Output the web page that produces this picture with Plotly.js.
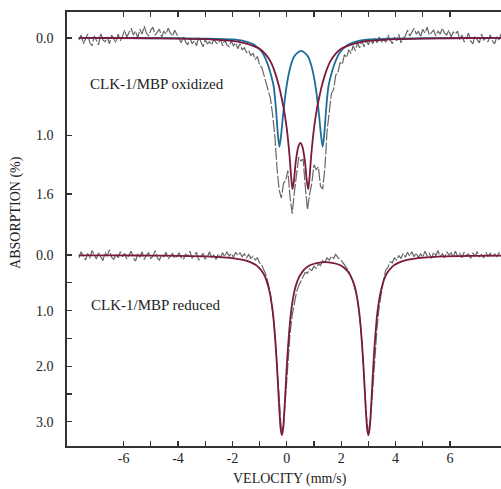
<!DOCTYPE html>
<html>
<head>
<meta charset="utf-8">
<script src="https://cdn.plot.ly/plotly-3.0.1.min.js"></script>
<style>html,body{margin:0;padding:0;background:#fff;}#chart{width:501px;height:489px;}
#fontprime{position:absolute;left:0;top:0;font-family:'Liberation Serif';font-size:14px;color:#ffffff;z-index:-1;}</style>
</head>
<body>
<div id="fontprime">ABSORPTION VELOCITY CLK-1/MBP oxidized reduced 0123456789.-()%</div>
<div id="chart"></div>
<script>
// Velocity channels (mm/s), shared by both spectra
const VELOCITY = [-7.64,-7.56,-7.48,-7.40,-7.32,-7.24,-7.16,-7.08,-7.00,-6.92,-6.84,-6.76,-6.68,-6.60,-6.52,-6.44,-6.36,-6.28,-6.20,-6.12,-6.04,-5.96,-5.88,-5.80,-5.72,-5.64,-5.56,-5.48,-5.40,-5.32,-5.24,-5.16,-5.08,-5.00,-4.92,-4.84,-4.76,-4.68,-4.60,-4.52,-4.44,-4.36,-4.28,-4.20,-4.12,-4.04,-3.96,-3.88,-3.80,-3.72,-3.64,-3.56,-3.48,-3.40,-3.32,-3.24,-3.16,-3.08,-3.00,-2.92,-2.84,-2.76,-2.68,-2.60,-2.52,-2.44,-2.36,-2.28,-2.20,-2.12,-2.04,-1.96,-1.88,-1.80,-1.72,-1.64,-1.56,-1.48,-1.40,-1.32,-1.24,-1.16,-1.08,-1.00,-0.92,-0.84,-0.76,-0.68,-0.60,-0.52,-0.44,-0.36,-0.28,-0.20,-0.12,-0.04,0.04,0.12,0.20,0.28,0.36,0.44,0.52,0.60,0.68,0.76,0.84,0.92,1.00,1.08,1.16,1.24,1.32,1.40,1.48,1.56,1.64,1.72,1.80,1.88,1.96,2.04,2.12,2.20,2.28,2.36,2.44,2.52,2.60,2.68,2.76,2.84,2.92,3.00,3.08,3.16,3.24,3.32,3.40,3.48,3.56,3.64,3.72,3.80,3.88,3.96,4.04,4.12,4.20,4.28,4.36,4.44,4.52,4.60,4.68,4.76,4.84,4.92,5.00,5.08,5.16,5.24,5.32,5.40,5.48,5.56,5.64,5.72,5.80,5.88,5.96,6.04,6.12,6.20,6.28,6.36,6.44,6.52,6.60,6.68,6.76,6.84,6.92,7.00,7.08,7.16,7.24,7.32,7.40,7.48,7.56,7.64,7.72,7.80,7.88,7.96];

// Measured absorption (%) – oxidized sample
const OXIDIZED_DATA = [0.02,-0.03,0.06,0.01,-0.04,0.05,0.08,-0.02,0.03,0.07,-0.05,0.02,0.04,-0.01,0.06,-0.03,0.01,0.05,-0.04,0.03,-0.02,
-0.08,-0.01,-0.06,-0.10,-0.03,-0.07,0.00,-0.09,-0.04,-0.12,-0.05,-0.02,-0.08,-0.11,-0.03,-0.06,-0.09,-0.01,-0.07,-0.04,-0.10,-0.05,-0.02,-0.08,-0.03,
0.01,0.05,-0.02,0.04,0.07,0.00,0.06,0.03,0.08,-0.01,0.05,0.09,0.02,0.06,0.04,0.07,0.01,0.05,
0.06,0.01,0.08,0.02,0.07,0.09,0.03,0.08,0.05,0.11,
0.06,0.12,0.10,0.15,0.13,0.18,0.16,0.22,0.19,0.28,
0.30,0.38,0.44,0.53,0.62,0.79,1.00,1.33,1.56,1.64,
1.49,1.46,1.36,1.63,1.80,1.58,1.41,1.22,1.26,1.24,
1.52,1.76,1.60,1.49,1.30,1.35,1.32,1.52,1.55,1.34,
0.96,0.79,0.57,0.53,0.38,0.36,0.25,0.27,0.17,0.20,
0.12,0.16,0.08,0.13,0.05,0.10,0.03,0.09,0.02,0.07,
0.01,0.06,0.00,0.05,-0.01,0.04,0.02,
0.04,-0.03,0.02,0.06,-0.01,0.03,-0.04,0.05,0.00,-0.02,
-0.08,-0.02,-0.06,-0.10,-0.04,-0.07,-0.01,-0.09,-0.05,-0.11,-0.03,-0.06,-0.08,-0.02,-0.07,-0.04,-0.10,-0.05,-0.03,-0.08,-0.01,-0.06,-0.04,-0.07,
0.02,-0.03,0.04,0.01,-0.05,0.03,0.06,-0.02,0.01,0.05,-0.04,0.02,0.00,0.04,-0.03,0.03,0.06,-0.01,0.02,-0.04,0.01];

// Measured absorption (%) – reduced sample
const REDUCED_DATA = [0.05,-0.06,0.02,0.09,-0.03,0.06,-0.08,0.01,0.07,-0.04,0.03,0.10,-0.05,0.02,-0.09,0.04,0.08,-0.02,0.05,-0.06,0.03,
-0.03,0.07,0.01,-0.07,0.05,0.11,-0.02,0.04,-0.06,0.08,0.00,-0.04,0.06,0.02,-0.08,0.05,0.09,-0.01,0.03,-0.05,0.07,0.01,-0.03,0.06,0.02,
-0.04,0.05,0.08,-0.02,0.03,-0.07,0.06,0.01,-0.05,0.09,0.02,-0.03,0.07,0.04,-0.06,0.05,0.00,0.08,
-0.02,0.05,-0.04,0.03,-0.06,0.02,-0.03,0.04,-0.05,0.01,
-0.04,0.03,-0.02,0.05,-0.01,0.06,0.02,0.09,0.05,0.14,
0.18,0.28,0.36,0.52,0.70,1.02,1.38,1.97,2.66,3.16,
3.08,2.55,1.92,1.42,1.08,0.84,0.66,0.55,0.46,0.40,
0.31,0.33,0.25,0.28,0.20,0.24,0.16,0.19,0.10,0.14,
0.05,0.09,0.02,0.06,-0.01,0.05,0.07,0.12,0.17,0.24,
0.29,0.40,0.47,0.63,0.80,1.12,1.53,2.21,2.86,3.20,
2.98,2.42,1.80,1.30,0.92,0.64,0.44,
0.27,0.22,0.12,0.14,0.05,0.09,0.01,0.06,-0.03,0.04,
-0.05,0.02,-0.06,0.03,-0.04,0.05,-0.02,0.04,
-0.07,0.02,-0.03,0.06,-0.05,0.01,-0.08,0.03,-0.02,0.05,-0.06,0.00,-0.04,0.04,-0.07,0.02,-0.03,0.05,-0.05,0.01,-0.02,0.06,-0.04,0.02,-0.06,0.03,-0.01,0.05,-0.05,0.02,-0.03,0.04,-0.02,0.03,-0.04,0.02,-0.01];

// Oxidized: fitted component 1 (maroon doublet)
const OX_COMP1_V = [-7.65,-5,-4,-3,-2.5,-2,-1.6,-1.3,-1.0,-0.8,-0.6,-0.45,-0.3,-0.2,-0.1,0.0,0.1,0.16,0.21,0.26,0.33,0.42,0.5,0.58,0.67,0.74,0.79,0.84,0.9,1.0,1.1,1.2,1.3,1.45,1.6,1.8,2.0,2.3,2.6,3.0,3.5,4,5,6,7.96];
const OX_COMP1_A = [0.0,0.003,0.006,0.012,0.02,0.03,0.05,0.075,0.11,0.16,0.24,0.34,0.48,0.6,0.74,0.93,1.2,1.42,1.55,1.47,1.27,1.12,1.075,1.12,1.27,1.47,1.55,1.42,1.2,0.93,0.74,0.6,0.48,0.34,0.24,0.16,0.11,0.075,0.05,0.03,0.02,0.012,0.006,0.003,0.0];

// Oxidized: fitted component 2 (blue doublet)
const OX_COMP2_V = [-7.65,-4,-3,-2,-1.6,-1.2,-0.9,-0.7,-0.58,-0.48,-0.4,-0.33,-0.27,-0.21,-0.14,-0.05,0.05,0.15,0.25,0.38,0.525,0.67,0.8,0.9,1.0,1.1,1.19,1.26,1.32,1.38,1.45,1.53,1.63,1.75,1.95,2.25,2.65,3.05,4,5,7.96];
const OX_COMP2_A = [0.0,0.003,0.006,0.015,0.03,0.07,0.15,0.27,0.38,0.5,0.72,0.98,1.115,1.0,0.8,0.58,0.4,0.28,0.2,0.155,0.133,0.155,0.2,0.28,0.4,0.58,0.8,1.0,1.115,0.98,0.72,0.5,0.38,0.27,0.15,0.07,0.03,0.015,0.006,0.003,0.0];

// Reduced: fitted doublet
const RED_FIT_V = [-7.65,-6,-5,-4,-3,-2.5,-2,-1.6,-1.3,-1.1,-1.0,-0.9,-0.8,-0.7,-0.62,-0.55,-0.5,-0.46,-0.42,-0.38,-0.34,-0.30,-0.26,-0.22,-0.18,-0.14,-0.10,-0.06,-0.02,0.02,0.06,0.10,0.14,0.2,0.28,0.36,0.44,0.52,0.62,0.76,0.92,1.1,1.41,1.72,1.9,2.06,2.2,2.28,2.36,2.46,2.54,2.62,2.68,2.72,2.76,2.8,2.84,2.88,2.92,2.96,3.0,3.04,3.08,3.12,3.16,3.2,3.24,3.28,3.32,3.37,3.44,3.52,3.62,3.72,3.82,3.92,4.12,4.42,4.82,5.32,5.82,6.82,7.96];
const RED_FIT_A = [0.005,0.007,0.009,0.014,0.025,0.036,0.056,0.089,0.135,0.19,0.24,0.30,0.39,0.53,0.69,0.89,1.08,1.30,1.55,1.84,2.18,2.55,2.90,3.15,3.24,3.15,2.90,2.55,2.18,1.84,1.56,1.31,1.10,0.87,0.65,0.51,0.41,0.34,0.27,0.21,0.17,0.145,0.128,0.145,0.17,0.21,0.27,0.32,0.39,0.51,0.65,0.87,1.10,1.31,1.56,1.84,2.18,2.55,2.90,3.15,3.24,3.15,2.90,2.55,2.18,1.84,1.55,1.30,1.08,0.89,0.69,0.53,0.39,0.30,0.24,0.19,0.135,0.089,0.056,0.036,0.025,0.014,0.009];

// Tick labels
const X_TICKS = [-6,-5,-4,-3,-2,-1,0,1,2,3,4,5,6];
const X_TICK_TEXT = ['-6','','-4','','-2','','0','','2','','4','','6'];
const TOP_Y_TICKS = [0, 1.0, 1.6];
const TOP_Y_TICK_TEXT = ['0.0','1.0','1.6'];
const BOT_Y_TICKS = [0,0.5,1,1.5,2,2.5,3];
const BOT_Y_TICK_TEXT = ['0.0','','1.0','','2.0','','3.0'];
const LABEL_OX = 'CLK-1/MBP oxidized';
const LABEL_RED = 'CLK-1/MBP reduced';

const GRAY = '#666666', MAROON = '#7a1a3f', BLUE = '#1d6e96', AX = '#333333';
const SERIF = 'Liberation Serif';

const traces = [
  {x: VELOCITY, y: OXIDIZED_DATA, xaxis:'x2', yaxis:'y2', mode:'lines', line:{color:GRAY, width:1.2, dash:'12px,2px'}, name:'oxidized data'},
  {x: OX_COMP2_V, y: OX_COMP2_A, xaxis:'x2', yaxis:'y2', mode:'lines', line:{color:BLUE, width:1.8, shape:'spline', smoothing:0.8}, name:'component 2'},
  {x: OX_COMP1_V, y: OX_COMP1_A, xaxis:'x2', yaxis:'y2', mode:'lines', line:{color:MAROON, width:1.8, shape:'spline', smoothing:0.8}, name:'component 1'},
  {x: VELOCITY, y: REDUCED_DATA, xaxis:'x', yaxis:'y', mode:'lines', line:{color:GRAY, width:1.2, dash:'12px,2px'}, name:'reduced data'},
  {x: RED_FIT_V, y: RED_FIT_A, xaxis:'x', yaxis:'y', mode:'lines', line:{color:MAROON, width:1.8, shape:'spline', smoothing:0.6}, name:'reduced fit'}
];

const XR = [-8.08, 7.876];
const axCommon = {showline:true, linecolor:AX, linewidth:1.6, ticks:'inside', ticklen:5, tickwidth:1.3, tickcolor:AX, showgrid:false, zeroline:false, tickfont:{family:SERIF, size:14, color:'#222'}};

const layout = {
  width:501, height:489,
  margin:{l:67, r:0, t:12, b:43, pad:0},
  paper_bgcolor:'#ffffff', plot_bgcolor:'#ffffff',
  showlegend:false,
  font:{family:SERIF, size:14, color:'#222'},
  xaxis: Object.assign({}, axCommon, {domain:[0,1], range:XR, anchor:'y', tickmode:'array', tickvals:X_TICKS, ticktext:X_TICK_TEXT, ticklabelstandoff:-1}),
  xaxis2: Object.assign({}, axCommon, {domain:[0,1], range:XR, anchor:'y2', side:'top', tickmode:'array', tickvals:X_TICKS, showticklabels:false}),
  yaxis: Object.assign({}, axCommon, {domain:[0,0.493], range:[3.435,-0.414], anchor:'x', tickmode:'array', tickvals:BOT_Y_TICKS, ticktext:BOT_Y_TICK_TEXT, ticklabelstandoff:9}),
  yaxis2: Object.assign({}, axCommon, {domain:[0.493,1], range:[1.989,-0.266], anchor:'x2', tickmode:'array', tickvals:TOP_Y_TICKS, ticktext:TOP_Y_TICK_TEXT, ticklabelstandoff:9}),
  annotations:[
    {text:'ABSORPTION (%)', xref:'paper', yref:'paper', x:-0.1175, y:0.537, textangle:-90, showarrow:false, xanchor:'center', yanchor:'middle', font:{family:SERIF, size:14, color:'#222'}},
    {text:'VELOCITY (mm/s)', xref:'paper', yref:'paper', x:0.514, y:-0.076, showarrow:false, xanchor:'center', yanchor:'middle', font:{family:SERIF, size:14, color:'#222'}},
    {text:LABEL_OX, xref:'x2', yref:'y2', x:-7.305, y:0.467, showarrow:false, xanchor:'left', yanchor:'middle', font:{family:SERIF, size:15, color:'#222'}},
    {text:LABEL_RED, xref:'x', yref:'y', x:-7.27, y:0.90, showarrow:false, xanchor:'left', yanchor:'middle', font:{family:SERIF, size:15, color:'#222'}}
  ]
};

function draw(){ Plotly.newPlot('chart', traces, layout, {staticPlot:true, displayModeBar:false}); }
if (document.fonts && document.fonts.load) {
  document.fonts.load('14px "Liberation Serif"').then(draw, draw);
} else { draw(); }
</script>
</body>
</html>
